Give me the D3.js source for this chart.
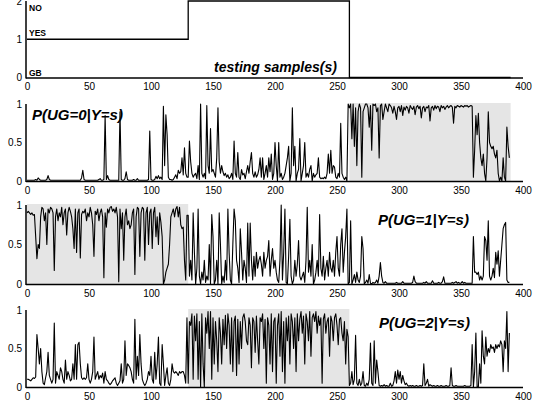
<!DOCTYPE html>
<html>
<head>
<meta charset="utf-8">
<script src="https://cdn.jsdelivr.net/npm/d3@7"></script>
<style>
html,body{margin:0;padding:0;background:#fff;}
svg{display:block;font-family:"Liberation Sans",Arial,sans-serif;}
</style>
</head>
<body>
<svg id="chart" width="543" height="410"></svg>
<script>
// ---- data ----
const xTicks = [0,50,100,150,200,250,300,350,400];
const classTicks = [0,1,2];
const probTicks = [0,0.5,1];
const classNames = ["GB","YES","NO"];
const stepSamples = [0,130,260,390];
const stepClass = [1,2,0,0];
const titles = ["P(UG=0|Y=s)","P(UG=1|Y=s)","P(UG=2|Y=s)"];
const xLabel = "testing samples(s)";
const shadeStart = [260,0,130];
const shadeEnd = [390,130,260];

const pUG0 = [
0.01,0.01,0.01,0.01,0.01,0.01,0.01,0.02,0.01,0.04,
0.02,0.01,0.01,0.01,0.01,0.01,0.02,0.07,0.02,0.01,
0.01,0.01,0.01,0.01,0.01,0.01,0.01,0.01,0.01,0.01,
0.01,0.01,0.01,0.01,0.01,0.01,0.01,0.01,0.01,0.01,
0.01,0.01,0.01,0.01,0.04,0.14,0.02,0.01,0.01,0.01,
0.01,0.01,0.01,0.01,0.01,0.01,0.01,0.01,0.02,0.03,
0.01,0.01,0.02,0.85,0.02,0.07,0.02,0.01,0.01,0.01,
0.01,0.01,0.01,0.01,0.01,0.9,0.02,0.01,0.01,0.03,
0.12,0.02,0.01,0.01,0.01,0.01,0.02,0.01,0.01,0.03,
0.01,0.01,0.01,0.01,0.01,0.01,0.01,0.01,0.02,0.65,
0.02,0.01,0.01,0.02,0.06,0.03,0.07,0.03,0.05,0.02,
0.97,0.2,0.86,0.6,0.05,0.02,0.02,0.01,0.02,0.05,
0.08,0.03,0.14,0.1,0.12,0.3,0.08,0.43,0.1,0.05,
0.05,0.52,0.25,0.1,0.05,0.08,0.1,0.03,0.2,0.02,
1.0,0.1,0.05,0.1,0.03,0.98,0.2,0.1,0.68,0.12,
0.15,0.1,0.05,0.3,0.95,0.25,0.1,0.2,0.12,0.07,
0.1,0.05,0.08,0.03,0.05,0.1,0.02,0.52,0.1,0.05,
0.37,0.05,0.02,0.15,0.08,0.1,0.03,0.12,0.2,0.1,
0.25,0.37,0.1,0.05,0.12,0.05,0.08,0.15,0.3,0.05,
0.3,0.02,0.1,0.2,0.05,0.3,0.12,0.35,0.02,0.1,
0.5,0.2,0.0,0.5,0.05,0.1,0.02,0.05,0.1,0.2,
0.3,0.45,0.0,0.1,0.95,0.2,0.45,0.0,0.1,0.15,
0.55,0.0,0.1,0.2,0.5,0.05,0.1,0.05,0.15,0.2,
0.0,0.1,0.05,0.08,0.1,0.3,0.05,0.03,0.04,0.03,
0.05,0.03,0.1,0.35,0.1,0.4,0.1,0.2,0.18,0.05,
0.03,0.1,0.05,0.75,0.1,0.05,0.02,0.05,0.0,1.0,
0.95,1.0,0.55,1.0,0.45,0.95,0.2,0.9,1.0,0.95,
0.05,0.9,0.95,1.0,1.0,0.95,0.7,0.98,0.4,1.0,
0.98,1.0,0.9,0.95,0.3,0.98,1.0,0.8,0.9,1.0,
0.95,0.9,1.0,0.98,0.95,0.88,0.97,0.9,0.8,0.95,
0.97,0.9,0.98,0.85,0.96,0.92,0.97,0.95,0.88,0.98,
0.95,0.93,0.97,0.86,0.96,0.98,0.94,0.97,0.82,0.95,
0.97,0.9,0.96,0.95,0.98,0.78,0.95,0.97,0.92,0.98,
0.94,0.97,0.96,0.9,0.98,0.95,0.97,0.93,0.96,0.98,
0.95,0.97,0.98,0.96,0.75,0.97,0.95,0.98,0.97,0.96,
0.98,0.97,0.96,0.98,0.97,0.98,0.96,0.97,0.98,0.97,
0.05,0.4,0.85,0.6,0.88,0.5,0.3,0.2,0.35,0.1,
0.0,0.3,0.9,0.5,0.45,0.42,0.45,0.35,0.3,0.4,
0.1,0.0,0.05,0.0,0.3,0.05,0.0,0.7,0.45,0.3
];

const pUG1 = [
0.9,0.92,0.9,0.88,0.9,0.87,0.88,0.6,0.32,0.5,
0.45,0.85,0.97,0.95,0.8,0.9,0.5,0.95,0.9,0.97,
0.95,0.9,0.17,0.85,0.95,0.8,0.9,0.85,0.97,0.75,
0.9,0.95,0.62,0.9,0.97,0.92,0.85,0.7,0.45,0.95,
0.4,0.9,0.95,0.33,0.88,0.92,0.9,0.95,0.8,0.9,
0.85,0.97,0.9,0.75,0.35,0.92,0.88,0.95,0.8,0.9,
0.95,0.85,0.08,0.9,0.72,0.95,0.9,0.97,0.98,0.92,
0.95,0.9,0.97,0.85,0.03,0.95,0.7,0.9,0.3,0.85,
0.95,0.75,0.8,0.7,0.75,0.9,0.95,0.12,0.85,0.97,
0.95,0.35,0.9,0.97,0.95,0.3,0.9,0.97,0.5,0.9,
0.95,0.45,0.9,0.97,0.6,0.85,0.5,0.9,0.78,0.6,
0.0,0.05,0.15,0.2,0.25,0.5,0.85,0.9,0.95,0.85,
0.95,0.98,0.85,0.97,0.75,0.7,0.72,0.3,0.05,0.87,
0.87,0.1,0.3,0.05,0.9,0.4,0.0,0.2,0.95,0.1,
0.0,0.15,0.05,0.3,0.02,0.1,0.05,0.5,0.0,0.88,
0.6,0.0,0.05,0.3,0.0,0.9,0.5,0.0,0.1,0.02,
0.3,0.05,0.95,0.4,0.05,0.0,0.5,0.95,0.8,0.3,
0.2,0.02,0.7,0.4,0.05,0.3,0.2,0.02,0.77,0.1,
0.77,0.3,0.05,0.35,0.1,0.4,0.2,0.3,0.35,0.25,
0.1,0.4,0.2,0.3,0.35,0.55,0.1,0.3,0.45,0.2,
0.3,0.15,0.05,0.02,0.3,1.0,0.05,0.4,0.95,0.02,
0.0,0.35,0.82,0.1,0.0,0.05,0.3,0.1,0.25,0.55,
0.1,0.05,0.1,0.15,0.02,0.3,0.97,0.15,0.3,0.1,
0.5,0.0,0.05,0.15,0.3,0.1,0.88,0.2,0.1,0.35,
0.05,0.2,0.3,0.1,0.4,0.2,0.15,0.3,0.1,0.4,
0.6,0.2,0.1,0.5,0.7,0.15,0.4,0.6,0.95,0.0,
0.02,0.8,0.0,0.05,0.12,0.02,0.15,0.05,0.02,0.1,
0.6,0.45,0.0,0.02,0.05,0.01,0.12,0.01,0.0,0.02,
0.01,0.02,0.05,0.01,0.1,0.27,0.1,0.02,0.01,0.03,
0.01,0.01,0.01,0.01,0.01,0.01,0.01,0.01,0.02,0.01,
0.01,0.01,0.01,0.03,0.01,0.01,0.01,0.01,0.01,0.01,
0.01,0.02,0.1,0.03,0.01,0.01,0.01,0.01,0.01,0.01,
0.02,0.01,0.03,0.01,0.01,0.01,0.01,0.04,0.01,0.01,
0.01,0.01,0.02,0.01,0.01,0.03,0.09,0.01,0.01,0.01,
0.01,0.01,0.01,0.02,0.01,0.02,0.03,0.01,0.02,0.01,
0.01,0.03,0.01,0.02,0.01,0.01,0.01,0.01,0.01,0.01,
0.6,0.15,0.15,0.12,0.15,0.05,0.1,0.05,0.1,0.6,
0.55,0.3,0.8,0.1,0.05,0.1,0.2,0.08,0.4,0.25,
0.42,0.1,0.3,0.5,0.7,0.75,0.78,0.05,0.02,0.02
];

const pUG2 = [
0.1,0.1,0.09,0.08,0.1,0.12,0.11,0.13,0.68,0.5,
0.3,0.5,0.2,0.05,0.03,0.12,0.2,0.45,0.15,0.1,
0.05,0.1,0.83,0.05,0.2,0.15,0.1,0.25,0.2,0.1,
0.05,0.35,0.1,0.2,0.15,0.08,0.1,0.3,0.1,0.55,
0.1,0.55,0.58,0.3,0.12,0.1,0.12,0.1,0.12,0.3,
0.1,0.05,0.1,0.2,0.65,0.1,0.15,0.2,0.1,0.15,
0.12,0.18,0.05,0.2,0.1,0.08,0.05,0.03,0.05,0.08,
0.1,0.12,0.05,0.02,0.05,0.08,0.3,0.05,0.1,0.6,
0.15,0.3,0.28,0.25,0.2,0.1,0.05,0.88,0.1,0.4,
0.15,0.68,0.3,0.1,0.05,0.02,0.05,0.1,0.2,0.15,
0.4,0.1,0.05,0.45,0.1,0.3,0.65,0.05,0.02,0.55,
0.3,0.02,0.15,0.25,0.05,0.02,0.1,0.3,0.2,0.18,
0.2,0.18,0.15,0.2,0.18,0.2,0.2,0.15,0.05,0.9,
0.05,0.85,0.8,0.95,0.1,0.92,0.6,0.95,0.1,0.85,
0.0,0.95,0.3,0.0,0.9,0.7,0.98,0.5,0.98,0.1,
0.9,0.3,0.85,0.6,0.2,0.9,0.7,0.3,0.88,0.55,
0.93,0.5,0.95,0.8,0.3,0.9,0.2,0.85,0.92,0.15,
0.88,0.3,0.85,0.5,0.9,0.95,0.85,0.6,0.55,0.9,
0.8,0.25,0.9,0.85,0.45,0.92,0.6,0.3,0.9,0.85,
0.95,0.5,0.88,0.05,0.9,0.8,0.3,0.95,0.2,0.85,
0.9,0.05,0.8,0.95,0.4,0.98,0.2,0.85,0.05,0.9,
0.6,0.92,0.3,0.95,0.85,0.5,0.9,0.2,0.95,0.6,
0.88,0.98,0.7,0.92,0.3,0.95,0.85,0.6,0.98,0.4,
0.9,0.95,0.85,0.98,0.7,0.92,0.8,0.9,0.05,0.88,
0.95,0.7,0.85,0.9,0.4,0.92,0.85,0.6,0.9,0.95,
0.8,0.55,0.88,0.9,0.7,0.6,0.85,0.3,0.75,0.65,
0.02,0.05,0.2,0.03,0.1,0.67,0.05,0.02,0.1,0.02,
0.05,0.2,0.02,0.01,0.05,0.02,0.1,0.57,0.05,0.02,
0.6,0.05,0.35,0.2,0.02,0.01,0.02,0.01,0.03,0.01,
0.02,0.01,0.01,0.05,0.01,0.02,0.08,0.2,0.05,0.22,
0.1,0.2,0.05,0.15,0.08,0.03,0.05,0.02,0.01,0.02,
0.01,0.02,0.01,0.01,0.02,0.01,0.01,0.02,0.01,0.02,
0.3,0.02,0.05,0.1,0.01,0.03,0.02,0.01,0.02,0.01,
0.01,0.02,0.01,0.01,0.02,0.01,0.01,0.01,0.02,0.01,
0.01,0.02,0.25,0.02,0.01,0.01,0.02,0.01,0.01,0.01,
0.01,0.01,0.01,0.02,0.01,0.01,0.01,0.01,0.02,0.55,
0.0,0.2,0.7,0.0,0.0,0.3,0.05,0.73,0.4,0.3,
0.65,0.4,0.5,0.45,0.55,0.5,0.52,0.45,0.55,0.5,
0.55,0.52,0.6,0.55,0.2,0.6,0.5,0.98,0.2,0.7
];
const probSeries = [pUG0, pUG1, pUG2];

// ---- layout ----
const svg = d3.select("#chart");
const x = d3.scaleLinear().domain([0,400]).range([27,523]);
const axisX0 = 26;
const fontTick = "10px";

function drawAxes(g, y, ticks, fmt){
  const ax = g.append("g").attr("transform",`translate(0,${y.range()[0]+0.5})`)
    .call(d3.axisBottom(x).tickValues(xTicks).tickSize(0).tickPadding(5).tickFormat(d3.format("d")));
  ax.select(".domain").attr("d",`M${axisX0},0H${x(400)}`).attr("stroke","#000").attr("stroke-width",1.5);
  ax.selectAll("text").attr("font-size",fontTick).attr("fill","#000");
  const ay = g.append("g").attr("transform",`translate(${axisX0},0)`)
    .call(d3.axisLeft(y).tickValues(ticks).tickSize(0).tickPadding(4).tickFormat(fmt));
  ay.select(".domain").attr("d",`M0,${y.range()[1]}V${y.range()[0]+1}`).attr("stroke","#000").attr("stroke-width",1.5);
  ay.selectAll("text").attr("font-size",fontTick).attr("fill","#000");
}

// Panel 1: class labels
{
  const g = svg.append("g");
  const y = d3.scaleLinear().domain([0,2]).range([77.5,1]);
  const pts = stepSamples.map((s,i)=>[s,stepClass[i]]);
  g.append("path").datum(pts)
    .attr("d", d3.line().x(d=>x(d[0])).y(d=>y(d[1])).curve(d3.curveStepAfter))
    .attr("fill","none").attr("stroke","#000").attr("stroke-width",1.3);
  drawAxes(g, y, classTicks, d3.format("d"));
  const labelY = [76, 36, 11];
  classNames.forEach((n,i)=>{
    g.append("text").attr("x",29).attr("y",labelY[i]).text(n)
      .attr("font-size","8.5px").attr("font-weight","bold").attr("fill","#000");
  });
  g.append("text").attr("x",214).attr("y",72).text(xLabel)
    .attr("font-size","14px").attr("font-weight","bold").attr("font-style","italic").attr("fill","#000");
}

// Panels 2-4
const panelTop = [104, 205, 310];
const panelBottom = [181, 284, 387];
const titlePos = [[32,120],[378,225],[379,328]];
probSeries.forEach((series,k)=>{
  const g = svg.append("g");
  const y = d3.scaleLinear().domain([0,1]).range([panelBottom[k], panelTop[k]]);
  g.append("rect")
    .attr("x", x(shadeStart[k])).attr("width", x(shadeEnd[k]) - x(shadeStart[k]))
    .attr("y", y(1)-1).attr("height", y(0)-y(1)+1)
    .attr("fill","#e5e5e5");
  g.append("path").datum(series)
    .attr("d", d3.line().x((d,i)=>x(i)).y(d=>y(d)))
    .attr("fill","none").attr("stroke","#000").attr("stroke-width",1.1).attr("stroke-linejoin","round");
  drawAxes(g, y, probTicks, d=> d===0.5 ? "0.5" : d3.format("d")(d));
  g.append("text").attr("x",titlePos[k][0]).attr("y",titlePos[k][1]).text(titles[k])
    .attr("font-size","15px").attr("font-weight","bold").attr("font-style","italic").attr("fill","#000");
});
</script>
</body>
</html>
